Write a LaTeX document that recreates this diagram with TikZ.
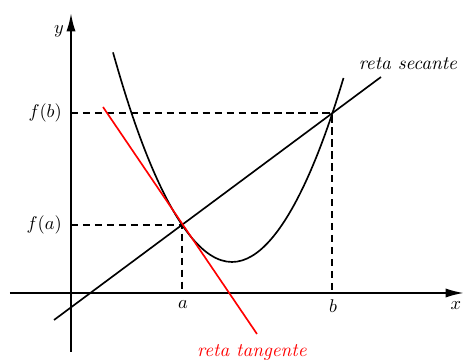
\documentclass[tikz,border=0pt]{standalone}
\usetikzlibrary{arrows.meta}
\begin{document}
\begin{tikzpicture}[x=0.01909cm,y=-0.01909cm,
  axis/.style={line width=1.1pt,-{Latex[length=10pt,width=5pt]}},
  curve/.style={line width=0.9pt},
  guide/.style={line width=0.9pt,dash pattern=on 4pt off 2.5pt},
  lbl/.style={inner sep=1pt,font=\fontsize{10.4}{12}\selectfont}]
\useasboundingbox (0,0) rectangle (464,361);
% points
\coordinate (A) at (182,225);
\coordinate (B) at (332,113);
\coordinate (Ax) at (182,293);
\coordinate (Bx) at (332,293);
\coordinate (Ay) at (71,225);
\coordinate (By) at (71,113);
\coordinate (xs) at (10,293);
\coordinate (xe) at (464,293);
\coordinate (ys) at (71,352);
\coordinate (ye) at (71,13);
\coordinate (s1) at (54,320);
\coordinate (s2) at (381,77);
\coordinate (t1) at (103,107);
\coordinate (t2) at (257,334);
% axes
\draw[axis] (xs) -- (xe);
\draw[axis] (ys) -- (ye);
% guides
\draw[guide] (By) -- (B) -- (Bx);
\draw[guide] (Ay) -- (A) -- (Ax);
% parabola
\draw[curve] (113,52.4) parabola bend (232,262) (343.5,78);
% secant
\draw[curve] (s1) -- (s2);
% tangent
\draw[curve,red] (t1) -- (t2);
% labels
\node[lbl] (ly) at (59,31) {$y$};
\node[lbl] (lx) at (456,306) {$x$};
\node[lbl] (la) at (183,305) {$a$};
\node[lbl] (lb) at (333,306) {$b$};
\node[lbl,anchor=east] (lfb) at (64,113) {$f(b)$};
\node[lbl,anchor=east] (lfa) at (64,225) {$f(a)$};
\node[lbl] (ls) at (408,64) {\textit{reta secante}};
\node[lbl,red] (lt) at (252,352) {\textit{reta tangente}};
\end{tikzpicture}
\end{document}
